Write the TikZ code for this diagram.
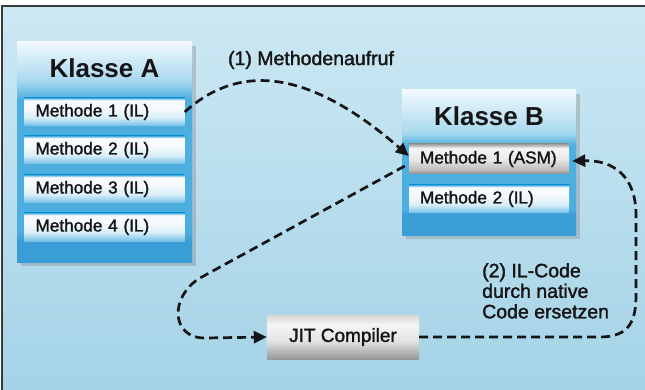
\documentclass[tikz,border=0pt]{standalone}
\usepackage{fontspec}
\setmainfont{Liberation Sans}
\newfontfamily\medfont[FakeBold=1.6]{Liberation Sans}
\usetikzlibrary{arrows.meta,shadows}
\definecolor{bgtop}{HTML}{CCE8F3}
\definecolor{bgbot}{HTML}{A5D3E7}
\definecolor{frame}{HTML}{3A3A3A}
\definecolor{bblue}{HTML}{3A9DD6}
\definecolor{mblue}{HTML}{4DAFE0}
\definecolor{lblue}{HTML}{A6D8EF}
\definecolor{wblue}{HTML}{F2F9FC}
\definecolor{rowA}{HTML}{72C0E7}
\definecolor{rowB}{HTML}{D8EEF8}
\definecolor{rowC}{HTML}{F8FBFD}
\definecolor{rowD}{HTML}{4AAEE0}
\definecolor{gA}{HTML}{8C8787}
\definecolor{gB}{HTML}{BDB8B8}
\definecolor{gC}{HTML}{EAE8E8}
\definecolor{gD}{HTML}{F6F5F5}
\definecolor{gE}{HTML}{A29C9B}
\definecolor{jA}{HTML}{979797}
\definecolor{jB}{HTML}{E2E2E2}
\definecolor{jC}{HTML}{F5F5F5}
\definecolor{jD}{HTML}{D6D6D6}
\definecolor{ink}{HTML}{151515}
% shadings: 25bp = bottom edge, 75bp = top edge
\pgfdeclareverticalshading{boxAshade}{100bp}{color(0bp)=(bblue); color(25bp)=(bblue); color(30bp)=(bblue); color(32bp)=(mblue); color(62bp)=(mblue); color(66bp)=(lblue); color(75bp)=(wblue); color(100bp)=(wblue)}
\pgfdeclareverticalshading{boxBshade}{100bp}{color(0bp)=(bblue); color(25bp)=(bblue); color(32bp)=(bblue); color(34bp)=(mblue); color(56bp)=(mblue); color(60bp)=(lblue); color(75bp)=(wblue); color(100bp)=(wblue)}
\pgfdeclareverticalshading{rowshade}{100bp}{color(0bp)=(rowA); color(25bp)=(rowA); color(40bp)=(rowB); color(58bp)=(rowC); color(71bp)=(rowC); color(75bp)=(rowD); color(100bp)=(rowD)}
\pgfdeclareverticalshading{asmshade}{100bp}{color(0bp)=(gA); color(25bp)=(gA); color(31bp)=(gB); color(50bp)=(gC); color(68bp)=(gD); color(75bp)=(gE); color(100bp)=(gE)}
\pgfdeclareverticalshading{jitshade}{100bp}{color(0bp)=(jA); color(25bp)=(jA); color(45bp)=(jB); color(64bp)=(jC); color(75bp)=(jD); color(100bp)=(jD)}
\tikzset{
  classbox/.style={rectangle, inner sep=0pt, drop shadow={shadow xshift=4pt, shadow yshift=-4pt, opacity=0.35}},
  classtitle/.style={inner sep=0pt, font=\fontsize{26}{28}\selectfont\bfseries, text=ink},
  rowbox/.style={rectangle, shading=rowshade, inner xsep=11pt, inner ysep=0pt, text width=138pt, align=left, minimum height=28pt, font=\medfont\fontsize{17.2}{20}\selectfont, text=ink},
  asmbox/.style={rowbox, shading=asmshade, minimum height=30pt},
  jitbox/.style={rectangle, shading=jitshade, minimum width=152pt, minimum height=44pt, inner sep=0pt, font=\medfont\fontsize{19}{22}\selectfont, text=ink},
  lbl/.style={inner sep=0pt, font=\medfont\fontsize{19.5}{20.5}\selectfont, text=ink},
  flow/.style={draw=ink, line width=2.7pt, dash pattern=on 9pt off 5pt, -{Triangle[length=13pt,width=12pt]}},
}
\begin{document}
\begin{tikzpicture}[x=1pt,y=-1pt]
\useasboundingbox (0,0) rectangle (645,390);
\fill[white] (0,0) rectangle (645,390);
\shade[top color=bgtop, bottom color=bgbot] (2,6) rectangle (645,390);
\draw[frame, line width=1.4pt] (2,390) -- (2,6) -- (645,6);

% Klasse A
\node[classbox, shading=boxAshade, minimum width=175pt, minimum height=220pt] (KA) at (104.5,152) {};
\node[classtitle] (KAt) at (104.5,68) {Klasse A};
\node[rowbox] (A1) at (104.5,112) {Methode 1 (IL)};
\node[rowbox] (A2) at (104.5,150) {Methode 2 (IL)};
\node[rowbox] (A3) at (104.5,189) {Methode 3 (IL)};
\node[rowbox] (A4) at (104.5,227) {Methode 4 (IL)};

% Klasse B
\node[classbox, shading=boxBshade, minimum width=174pt, minimum height=145pt] (KB) at (489,162.5) {};
\node[classtitle] (KBt) at (489,116) {Klasse B};
\node[asmbox] (B1) at (489,159) {Methode 1 (ASM)};
\node[rowbox] (B2) at (489,199) {Methode 2 (IL)};

% JIT
\node[jitbox] (JIT) at (343,337) {JIT Compiler};

% labels
\node[lbl] (L1) at (311,60) {(1) Methodenaufruf};
\node[lbl, anchor=north west, align=left] (L2) at (482,263) {(2) IL-Code\\durch native\\Code ersetzen};

% connectors
\draw[flow] (A1.east) .. controls (240,62) and (310,70) .. ([yshift=3pt]B1.west);
\coordinate (c1) at (200,278);
\coordinate (c2) at (205,338);
\draw[flow] ([xshift=-4pt,yshift=-7pt]B1.west) -- (c1) .. controls (170,296) and (170,338) .. (c2) -- (JIT.west);
\coordinate (c3) at (600,337);
\coordinate (c4) at (636,295);
\coordinate (c5) at (636,215);
\draw[flow] (JIT.east) -- (c3) .. controls (630,337) and (636,320) .. (c4) -- (c5) .. controls (636,175) and (612,160) .. ([xshift=3pt,yshift=-2pt]B1.east);
\end{tikzpicture}
\end{document}
